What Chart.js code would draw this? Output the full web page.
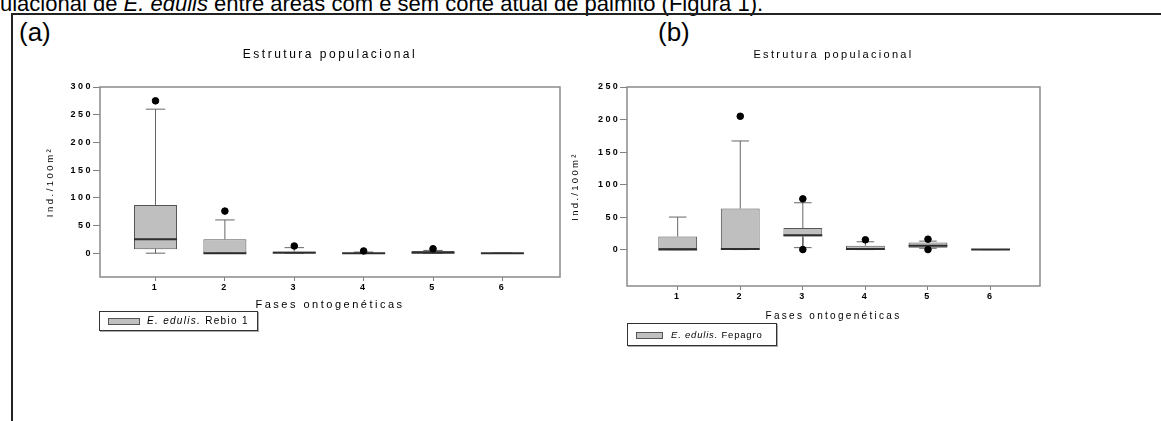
<!DOCTYPE html>
<html>
<head>
<meta charset="utf-8">
<script src="https://cdn.jsdelivr.net/npm/chart.js@4"></script>
<style>
  body { margin:0; background:#fff; width:1161px; height:421px; overflow:hidden; position:relative;
         font-family:"Liberation Sans", Arial, sans-serif; color:#000; }
  .caption { position:absolute; left:0; top:-7px; font-size:22px; line-height:1; white-space:nowrap; }
  .frame { position:absolute; left:11px; top:13px; width:1160px; height:420px;
           border-left:2px solid #222; border-top:2px solid #222; }
  .tag { position:absolute; top:19px; font-size:26px; line-height:1; }
  .plot { position:absolute; top:40px; }
  .legend { position:absolute; box-sizing:border-box; border:1px solid #333; box-shadow:1px 1px 0 #aaa;
            white-space:nowrap; }
  .legend .sw { position:absolute; box-sizing:border-box; background:#c0c0c0; border:1px solid #555; }
  .legend .txt { position:absolute; line-height:1; }
</style>
</head>
<body>
<div class="caption">ulacional de <i>E. edulis</i> entre áreas com e sem corte atual de palmito (Figura 1).</div>
<div class="frame"></div>
<div class="tag" style="left:19px">(a)</div>
<div class="tag" style="left:658px">(b)</div>

<div class="plot" style="left:20px"><canvas id="chartA" width="545" height="273"></canvas></div>
<div class="plot" style="left:555px"><canvas id="chartB" width="490" height="284"></canvas></div>

<div class="legend" style="left:99px; top:311px; width:159px; height:20px;">
  <span class="sw" style="left:8px; top:6px; width:32px; height:7px;"></span>
  <span class="txt" style="left:47px; top:4px; font-size:10px; letter-spacing:1.3px;"><i>E. edulis.</i> Rebio 1</span>
</div>
<div class="legend" style="left:627px; top:323px; width:150px; height:23px;">
  <span class="sw" style="left:8px; top:8px; width:27px; height:7px;"></span>
  <span class="txt" style="left:43px; top:6px; font-size:9.5px; letter-spacing:0.8px;"><i>E. edulis.</i> Fepagro</span>
</div>

<script>
// fases ontogeneticas
const phases = [1, 2, 3, 4, 5, 6];

// (a) E. edulis, Rebio 1
const rebioMin = [0, 0, 0, 0, 0, 0];
const rebioQ1 = [7, 0, 0, 0, 0, 0];
const rebioMedian = [25, 0, 1, 0, 1, 0];
const rebioQ3 = [87, 25, 3, 1, 4, 0];
const rebioMax = [260, 60, 10, 2, 5, 0];
const rebioOutliers = [[275], [76], [13], [4], [8], []];
const rebioYTicks = [0, 50, 100, 150, 200, 250, 300];

// (b) E. edulis, Fepagro
const fepMin = [0, 0, 3, 0, 2, 0];
const fepQ1 = [0, 0, 20, 0, 3, 0];
const fepMedian = [0, 1, 22, 1, 6, 0];
const fepQ3 = [20, 63, 33, 6, 11, 0];
const fepMax = [50, 167, 72, 12, 13, 0];
const fepOutliers = [[], [205], [78, 0], [15], [16, 0], []];
const fepYTicks = [0, 50, 100, 150, 200, 250];

const BOX = 0.62;   // largura da caixa (unidades do eixo x)
const CAP = 0.28;   // largura dos "bigodes"

Chart.defaults.font.family = '"Liberation Sans", Arial, sans-serif';
Chart.defaults.color = '#000';

// moldura cinza em volta da area do grafico
const framePlugin = {
  id: 'frame',
  beforeDatasetsDraw(chart) {
    const { ctx, chartArea: a } = chart;
    ctx.save();
    ctx.strokeStyle = '#8a8a8a';
    ctx.lineWidth = 1.5;
    ctx.strokeRect(a.left, a.top, a.right - a.left, a.bottom - a.top);
    ctx.restore();
  }
};

// texto espacado como no original
function spacingPlugin(px) {
  return { id: 'spacing', beforeDraw(chart) { chart.ctx.letterSpacing = px + 'px'; } };
}

function boxDatasets(mins, q1s, meds, q3s, maxs, outs) {
  const boxes = phases.map((p, i) => ({ x: p, y: [q1s[i], q3s[i]] }));
  const medians = [];
  const whiskers = [];
  phases.forEach((p, i) => {
    medians.push({ x: p - BOX / 2, y: meds[i] }, { x: p + BOX / 2, y: meds[i] }, { x: p, y: null });
    whiskers.push(
      { x: p, y: q3s[i] }, { x: p, y: maxs[i] }, { x: p, y: null },
      { x: p - CAP / 2, y: maxs[i] }, { x: p + CAP / 2, y: maxs[i] }, { x: p, y: null },
      { x: p, y: q1s[i] }, { x: p, y: mins[i] }, { x: p, y: null },
      { x: p - CAP / 2, y: mins[i] }, { x: p + CAP / 2, y: mins[i] }, { x: p, y: null }
    );
  });
  const points = [];
  phases.forEach((p, i) => outs[i].forEach(v => points.push({ x: p, y: v })));

  return [
    { type: 'scatter', data: points, pointRadius: 3.3, pointBackgroundColor: '#000',
      pointBorderColor: '#000', order: 0 },
    { type: 'line', data: medians, borderColor: '#2e2e2e', borderWidth: 2,
      pointRadius: 0, spanGaps: false, order: 1 },
    { type: 'line', data: whiskers, borderColor: '#666', borderWidth: 1,
      pointRadius: 0, spanGaps: false, order: 2 },
    { type: 'bar', data: boxes, backgroundColor: '#bfbfbf', borderColor: '#555',
      borderWidth: 1, borderSkipped: false, barPercentage: BOX, categoryPercentage: 1, order: 3 }
  ];
}

function makeChart(id, datasets, o) {
  return new Chart(document.getElementById(id), {
    type: 'bar',
    data: { datasets: datasets },
    plugins: [spacingPlugin(o.spacing), framePlugin],
    options: {
      responsive: false,
      animation: false,
      events: [],
      layout: { padding: { left: 0, right: 2, top: 0, bottom: 0 } },
      plugins: {
        legend: { display: false },
        tooltip: { enabled: false },
        title: {
          display: true,
          fullSize: false,
          text: 'Estrutura populacional',
          font: { size: o.titleSize, weight: 'normal' },
          padding: { top: 15 - o.titleSize * 0.6, bottom: 47 - 15 - o.titleSize * 0.6 }
        }
      },
      scales: {
        x: {
          type: 'linear',
          min: o.xMin, max: o.xMax,
          offset: false,
          afterBuildTicks: s => { s.ticks = phases.map(v => ({ value: v })); },
          afterFit: s => { s.height = o.xHeight; },
          grid: { offset: false, drawOnChartArea: false, drawTicks: true, tickLength: 4, color: '#808080' },
          border: { display: false },
          ticks: { font: { size: 9, weight: 'bold' }, padding: 1.6, maxRotation: 0 },
          title: { display: true, text: 'Fases ontogenéticas', font: { size: o.xTitleSize },
                   padding: { top: 0, bottom: o.xTitlePad } }
        },
        y: {
          min: o.yMin, max: o.yMax,
          afterBuildTicks: s => { s.ticks = o.yTicks.map(v => ({ value: v })); },
          afterFit: s => { s.width = o.yWidth; },
          grid: { drawOnChartArea: false, drawTicks: true, tickLength: 7, color: '#808080' },
          border: { display: false },
          ticks: { font: { size: 9, weight: 'bold' }, padding: 0 },
          title: { display: true, text: 'Ind./100m²', font: { size: 9.5 },
                   padding: { top: o.yTitlePad, bottom: 0 } }
        }
      }
    }
  });
}

makeChart('chartA',
  boxDatasets(rebioMin, rebioQ1, rebioMedian, rebioQ3, rebioMax, rebioOutliers),
  { xMin: 0.2, xMax: 6.83, yMin: -43, yMax: 300, yTicks: rebioYTicks,
    yWidth: 80, yTitlePad: 24.3, xHeight: 36, xTitlePad: 1.4,
    spacing: 2.5, titleSize: 12, xTitleSize: 11 });

makeChart('chartB',
  boxDatasets(fepMin, fepQ1, fepMedian, fepQ3, fepMax, fepOutliers),
  { xMin: 0.19, xMax: 6.79, yMin: -56, yMax: 250, yTicks: fepYTicks,
    yWidth: 72, yTitlePad: 14.3, xHeight: 38, xTitlePad: 2, 
    spacing: 2.3, titleSize: 11, xTitleSize: 10 });
</script>
</body>
</html>
